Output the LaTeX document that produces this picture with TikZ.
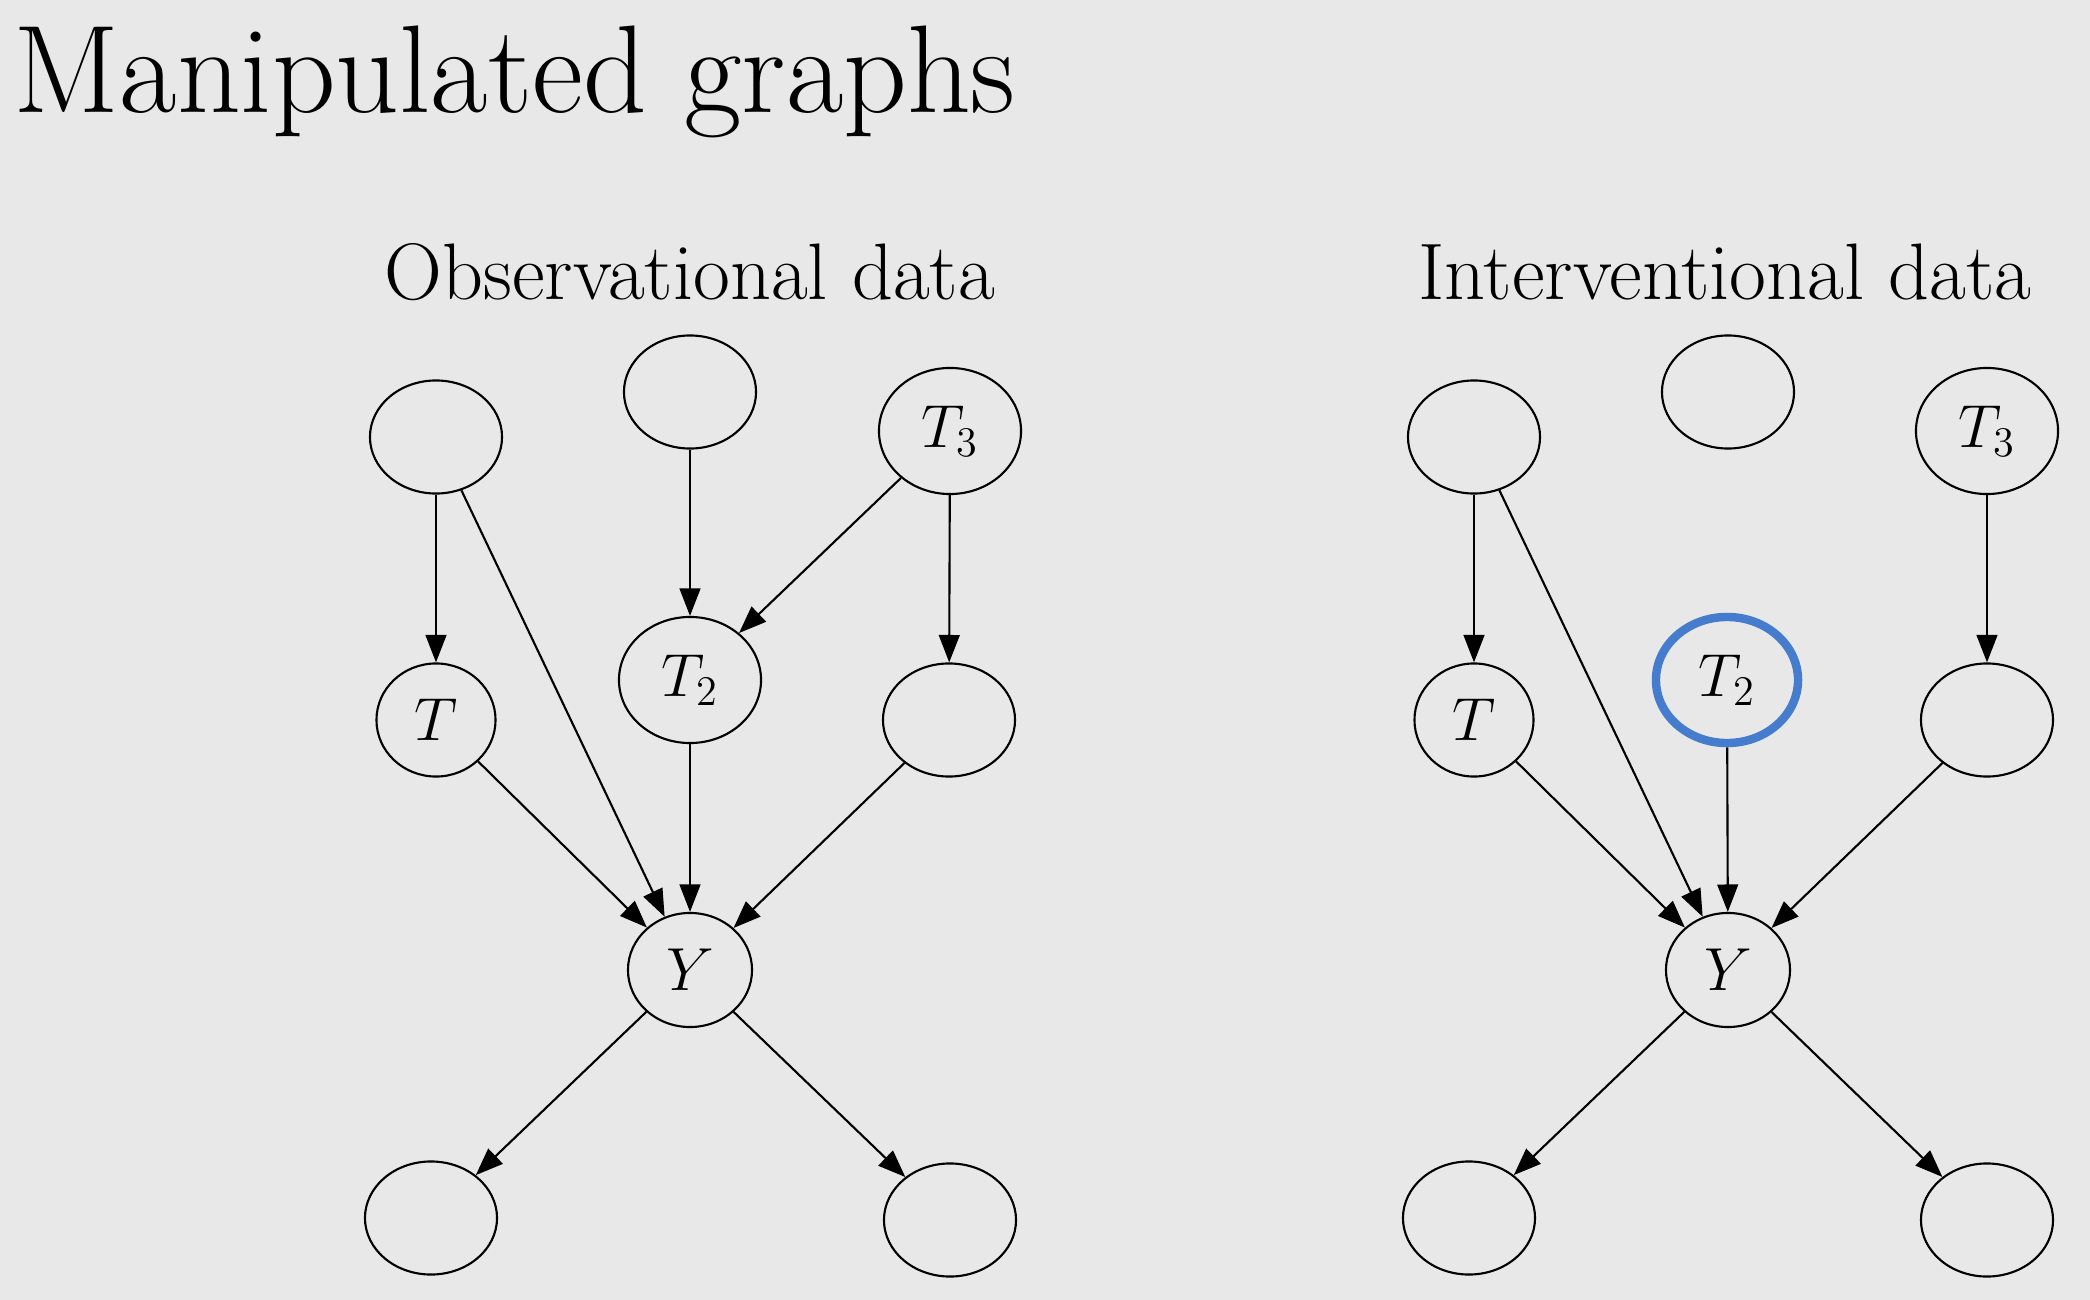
\documentclass[tikz,border=0pt]{standalone}
\usepackage{amsmath}
\usepackage{tikz}
\usetikzlibrary{arrows.meta, shapes.geometric, positioning}

\definecolor{bggray}{RGB}{232,232,232}
\definecolor{ivblue}{RGB}{70,124,206}

\begin{document}
\begin{tikzpicture}[
    x=0.01cm, y=-0.01cm,
    title/.style={font=\fontsize{35.5}{42}\selectfont, inner sep=0pt, anchor=base west},
    header/.style={font=\fontsize{22.8}{27}\selectfont, inner sep=0pt, anchor=base},
    var/.style={draw, ellipse, line width=0.6pt, inner sep=0pt,
        minimum width=1.32cm, minimum height=1.13cm, font=\fontsize{17.8}{21}\selectfont},
    narrow_var/.style={var, minimum width=1.19cm},
    wide_var/.style={var, minimum width=1.42cm, minimum height=1.26cm},
    y_var/.style={var, minimum width=1.24cm, minimum height=1.14cm},
    intervened/.style={draw=ivblue, line width=2.4pt},
    cause/.style={-{Triangle[length=7.8pt, width=5.9pt]}, line width=0.6pt}
]

    % background and page size
    \fill[bggray] (0,0) rectangle (2090,1300);
    \useasboundingbox (0,0) rectangle (2090,1300);

    \node[title] (title) at (13,113) {Manipulated graphs};

    % --- Observational data ---
    \node[header] (obs-head) at (690,300) {Observational data};
    \node[var] (O-a) at (436,437) {};
    \node[var] (O-b) at (690,392) {};
    \node[wide_var] (O-t3) at (950,431) {$T_3$};
    \node[narrow_var] (O-t) at (436,720) {$T$};
    \node[wide_var] (O-t2) at (690,680) {$T_2$};
    \node[var] (O-c) at (949,720) {};
    \node[y_var] (O-y) at (690,970) {$Y$};
    \node[var] (O-d) at (431,1218) {};
    \node[var] (O-e) at (950,1220) {};

    \foreach \from/\to in {a/t, a/y, b/t2, t3/t2, t3/c, t/y, t2/y, c/y, y/d, y/e}
        \draw[cause] (O-\from) -- (O-\to);

    % --- Interventional data: edges into T_2 removed ---
    \node[header] (int-head) at (1725,300) {Interventional data};
    \node[var] (I-a) at (1474,437) {};
    \node[var] (I-b) at (1728,392) {};
    \node[wide_var] (I-t3) at (1987,431) {$T_3$};
    \node[narrow_var] (I-t) at (1474,720) {$T$};
    \node[wide_var, intervened] (I-t2) at (1727,680) {$T_2$};
    \node[var] (I-c) at (1987,720) {};
    \node[y_var] (I-y) at (1728,970) {$Y$};
    \node[var] (I-d) at (1469,1218) {};
    \node[var] (I-e) at (1987,1220) {};

    \foreach \from/\to in {a/t, a/y, t3/c, t/y, t2/y, c/y, y/d, y/e}
        \draw[cause] (I-\from) -- (I-\to);

\end{tikzpicture}
\end{document}
